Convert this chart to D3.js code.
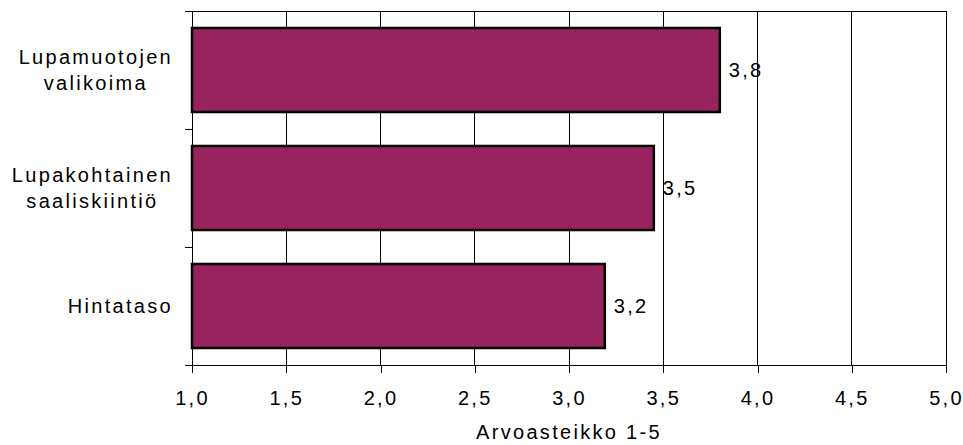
<!DOCTYPE html>
<html><head><meta charset="utf-8">
<script src="https://cdn.jsdelivr.net/npm/d3@7"></script>
<style>
body{margin:0;background:#fff;}
text{font-family:"Liberation Sans",Arial,sans-serif;font-size:20px;letter-spacing:2.3px;fill:#000;}
</style></head><body>
<svg id="c" width="963" height="445"></svg>
<script>
const categories = [["Lupamuotojen","valikoima"],["Lupakohtainen","saaliskiintiö"],["Hintataso"]];
const values = [3.8, 3.45, 3.19];
const valueLabels = ["3,8","3,5","3,2"];
const xTicks = [1.0,1.5,2.0,2.5,3.0,3.5,4.0,4.5,5.0];
const xTickLabels = ["1,0","1,5","2,0","2,5","3,0","3,5","4,0","4,5","5,0"];
const xTitle = "Arvoasteikko 1-5";

const svg = d3.select("#c");
const L=192, R=946, T=11, B=365;
const x = d3.scaleLinear().domain([1,5]).range([L,R]);
const y = d3.scaleBand().domain(d3.range(categories.length)).range([T,B]).paddingInner(0.288).paddingOuter(0.144);

// gridlines
svg.append("g").selectAll("line").data(xTicks.slice(1)).join("line")
  .attr("x1",d=>x(d)).attr("x2",d=>x(d)).attr("y1",T).attr("y2",B)
  .attr("stroke","#000").attr("stroke-width",1).attr("shape-rendering","crispEdges");
// top border
svg.append("line").attr("x1",L-7).attr("x2",R).attr("y1",T).attr("y2",T)
  .attr("stroke","#000").attr("shape-rendering","crispEdges");

// bars
svg.append("g").selectAll("rect").data(values).join("rect")
  .attr("x",x(1)).attr("y",(d,i)=>y(i)).attr("width",d=>x(d)-x(1)).attr("height",y.bandwidth())
  .attr("fill","#98235F").attr("stroke","#000").attr("stroke-width",2.5);

// value labels
svg.append("g").selectAll("text").data(values).join("text")
  .attr("x",d=>x(d)+9).attr("y",(d,i)=>y(i)+y.bandwidth()/2+7)
  .text((d,i)=>valueLabels[i]);

// x axis
const xa = svg.append("g").attr("transform",`translate(0,${B})`)
  .call(d3.axisBottom(x).tickValues(xTicks).tickFormat((d,i)=>xTickLabels[i]).tickSize(8).tickPadding(8).tickSizeOuter(0));
xa.select(".domain").remove();
xa.selectAll("line").attr("stroke","#000").attr("shape-rendering","crispEdges");
xa.selectAll("text").attr("font-size",null).attr("font-family",null).attr("dy",null).attr("y",39.5).style("fill","#000");
svg.append("line").attr("x1",L-7).attr("x2",R).attr("y1",B).attr("y2",B)
  .attr("stroke","#000").attr("shape-rendering","crispEdges");

// y axis line and category ticks
svg.append("line").attr("x1",L).attr("x2",L).attr("y1",T).attr("y2",B)
  .attr("stroke","#000").attr("shape-rendering","crispEdges");
const bounds = d3.range(1,categories.length).map(i=>y(i)-y.step()*y.paddingInner()/2);
svg.append("g").selectAll("line").data(bounds).join("line")
  .attr("x1",L-7).attr("x2",L).attr("y1",d=>d).attr("y2",d=>d)
  .attr("stroke","#000").attr("shape-rendering","crispEdges");

// category labels
const lh = 26;
categories.forEach((lines,i)=>{
  const cy = y(i)+y.bandwidth()/2;
  const g = svg.append("g");
  const ts = lines.map((t,j)=>g.append("text").attr("text-anchor","middle")
    .attr("y", cy + 7 + (j-(lines.length-1)/2)*lh).text(t));
  const maxW = d3.max(ts, t=>t.node().getComputedTextLength());
  ts.forEach(t=>t.attr("x", 173 - maxW/2));
});

// x title
svg.append("text").attr("x",(L+R)/2).attr("y",439).attr("text-anchor","middle").text(xTitle);
</script></body></html>
